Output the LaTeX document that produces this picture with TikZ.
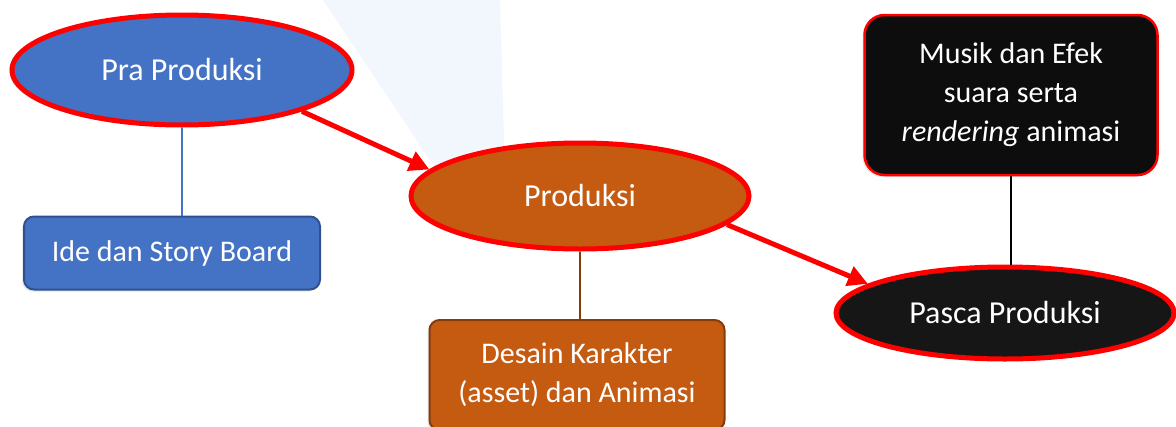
\documentclass[tikz,border=0pt]{standalone}
\usepackage{fontspec}
\setmainfont{Carlito}
\usetikzlibrary{shapes.geometric,arrows.meta,shadows}
\definecolor{cblue}{HTML}{4472C4}
\definecolor{cblueline}{HTML}{2F528F}
\definecolor{corange}{HTML}{C55A11}
\definecolor{corangeline}{HTML}{843C0C}
\definecolor{cblack}{HTML}{161616}
\definecolor{cbox}{HTML}{0D0D0D}
\definecolor{cred}{HTML}{FF0000}
\definecolor{cwedge}{HTML}{F1F7FD}
\tikzset{
  lbl/.style={text=white, font=\fontsize{30}{39}\selectfont, align=center},
  phase/.style={ellipse, lbl, font=\fontsize{32}{39}\selectfont, draw=cred, line width=5pt, inner sep=0pt,
    drop shadow={opacity=0.25, shadow xshift=-2pt, shadow yshift=-2pt}},
  task/.style={rectangle, rounded corners=10pt, lbl, inner sep=0pt,
    drop shadow={opacity=0.2, shadow xshift=-2pt, shadow yshift=-2pt}},
  flow/.style={draw=cred, line width=5pt, -{Triangle[length=20pt,width=20pt]}},
  link/.style={line width=1.5pt}
}
\begin{document}
\begin{tikzpicture}[x=1pt,y=-1pt]
\useasboundingbox (0,0) rectangle (1176,426);
\fill[cwedge] (323,0) -- (500,0) -- (505,175) -- (440,175) -- cycle;

\node[phase, fill=cblue, minimum width=340pt, minimum height=110pt] (pra) at (182,70) {Pra Produksi};
\node[task, fill=cblue, draw=cblueline, line width=2pt, minimum width=296pt, minimum height=73pt] (ide) at (172,253) {Ide dan Story Board};

\node[phase, fill=corange, minimum width=338pt, minimum height=106pt] (prod) at (580,196) {Produksi};
\node[task, fill=corange, draw=corangeline, line width=2pt, minimum width=295pt, minimum height=110pt] (desain) at (577,375) {Desain Karakter\\(asset) dan Animasi};

\node[phase, fill=cblack, minimum width=338pt, minimum height=92pt] (pasca) at (1005,313) {Pasca Produksi};
\node[task, fill=cbox, draw=cred, line width=2.5pt, rounded corners=20pt, minimum width=293pt, minimum height=160pt] (musik) at (1011,95) {Musik dan Efek\\suara serta\\\textit{rendering} animasi};

\draw[link, draw=cblue] (pra.south) -- (pra.south |- ide.north);
\draw[link, draw=corangeline] (prod.south) -- (prod.south |- desain.north);
\draw[link, draw=black] (musik.south) -- (musik.south |- pasca.north);

\draw[flow] (pra.-19) -- (prod.170);
\draw[flow] (prod.-11) -- (pasca.168);
\end{tikzpicture}
\end{document}
